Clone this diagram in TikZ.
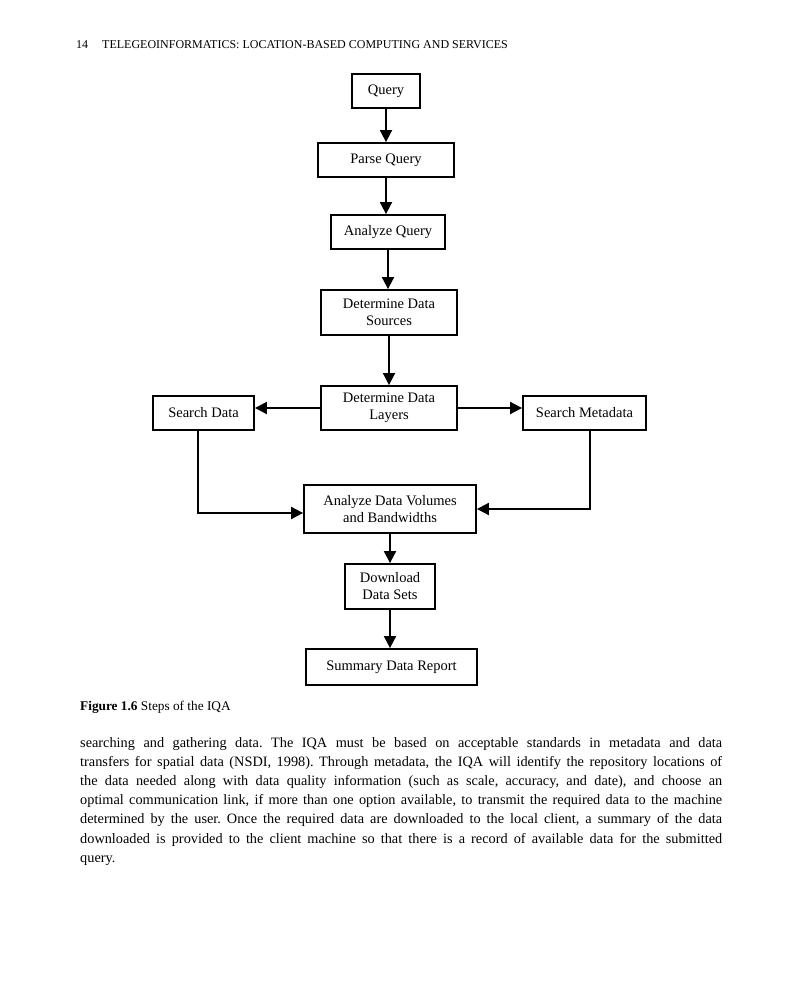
\documentclass[tikz,border=0pt]{standalone}
\usepackage{fontspec}
\setmainfont{Liberation Serif}
\usetikzlibrary{arrows.meta}
\frenchspacing

\tikzset{
  stepbox/.style={draw, line width=1.8pt, align=center, inner sep=0pt,
    font=\fontsize{14.5}{17}\selectfont},
  flow/.style={line width=1.8pt, -{Triangle[width=12pt,length=12pt]}},
  bodyline/.style={anchor=base west, inner sep=0pt, font=\fontsize{14.3}{19}\selectfont}
}

\begin{document}
\begin{tikzpicture}[x=1pt,y=-1pt]
  \fill[white] (0,0) rectangle (800,987);
  \useasboundingbox (0,0) rectangle (800,987);

  % running head
  \node[anchor=base west, inner sep=0pt, font=\fontsize{12}{14}\selectfont] (pageno) at (76,49) {14};
  \node[anchor=base west, inner sep=0pt, font=\fontsize{12}{14}\selectfont] (runhead) at (102,49)
    {TELEGEOINFORMATICS: LOCATION-BASED COMPUTING AND SERVICES};

  % steps
  \node[stepbox, minimum width=68pt, minimum height=34pt] (query) at (386,91) {Query};
  \node[stepbox, minimum width=136pt, minimum height=34pt] (parse) at (386,160) {Parse Query};
  \node[stepbox, minimum width=114pt, minimum height=34pt] (analyze) at (388,232) {Analyze Query};
  \node[stepbox, minimum width=136pt, minimum height=45pt] (sources) at (389,312.5) {Determine Data\\Sources};
  \node[stepbox, minimum width=136pt, minimum height=44pt] (layers) at (389,408) {Determine Data\\Layers};
  \node[stepbox, minimum width=101pt, minimum height=34pt] (sdata) at (203.5,413) {Search Data};
  \node[stepbox, minimum width=123pt, minimum height=34pt] (smeta) at (584.5,413) {Search Metadata};
  \node[stepbox, minimum width=172pt, minimum height=48pt] (volumes) at (390,509) {Analyze Data Volumes\\and Bandwidths};
  \node[stepbox, minimum width=90pt, minimum height=45pt] (download) at (390,586.5) {Download\\Data Sets};
  \node[stepbox, minimum width=171pt, minimum height=36pt] (report) at (391.5,667) {Summary Data Report};

  % connectors
  \draw[flow] (query.south) -- (query.south |- parse.north);
  \draw[flow] (parse.south) -- (parse.south |- analyze.north);
  \draw[flow] (analyze.south) -- (analyze.south |- sources.north);
  \draw[flow] (sources.south) -- (sources.south |- layers.north);
  \draw[flow] (layers.west) -- (layers.west -| sdata.east);
  \draw[flow] (layers.east) -- (layers.east -| smeta.west);
  \draw[flow] ([xshift=-5.5pt]sdata.south) |- ([yshift=-4pt]volumes.west);
  \draw[flow] ([xshift=5.5pt]smeta.south) |- (volumes.east);
  \draw[flow] (volumes.south) -- (volumes.south |- download.north);
  \draw[flow] (download.south) -- (download.south |- report.north);

  % caption
  \node[anchor=base west, inner sep=0pt, font=\fontsize{13.3}{15}\selectfont] (caption) at (80,710)
    {\textbf{Figure 1.6} Steps of the IQA};

  % body text
  \foreach \txt [count=\i] in {%
    {searching and gathering data. The IQA must be based on acceptable standards in metadata and data},
    {transfers for spatial data (NSDI, 1998). Through metadata, the IQA will identify the repository locations of},
    {the data needed along with data quality information (such as scale, accuracy, and date), and choose an},
    {optimal communication link, if more than one option available, to transmit the required data to the machine},
    {determined by the user. Once the required data are downloaded to the local client, a summary of the data},
    {downloaded is provided to the client machine so that there is a record of available data for the submitted}}
    \node[bodyline] (line\i) at (80,{747+19.2*(\i-1)}) {\makebox[642pt][s]{\txt}};
  \node[bodyline] (lastline) at (80,862.2) {query.};
\end{tikzpicture}
\end{document}
